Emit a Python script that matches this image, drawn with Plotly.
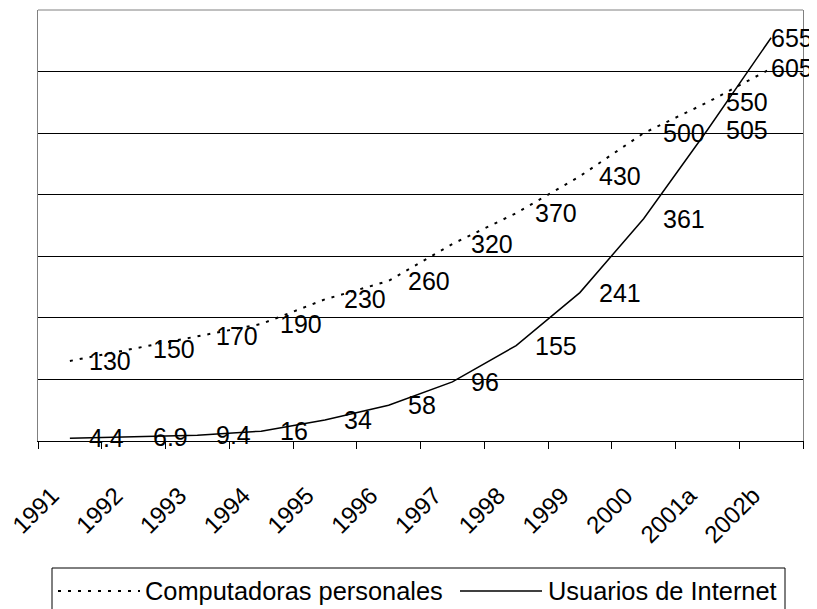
import plotly.graph_objects as go

years = ["1991", "1992", "1993", "1994", "1995", "1996", "1997", "1998",
         "1999", "2000", "2001a", "2002b"]
computadoras = [130, 150, 170, 190, 230, 260, 320, 370, 430, 500, 550, 605]
internet = [4.4, 6.9, 9.4, 16, 34, 58, 96, 155, 241, 361, 505, 655]
series_names = ["Computadoras personales", "Usuarios de Internet"]

FONT = "Liberation Sans, Arial, sans-serif"
OFF = 8                      # default page body margin
W, H = 817 - OFF, 609 - OFF  # figure size so that it fills the window
# plot area in window pixels: x 38..803, y 10..441
ML, MT = 38 - OFF, 10 - OFF
MR = W - (803 - OFF)
MB = H - (441 - OFF)
plot_w = W - ML - MR
plot_h = H - MT - MB


def px_x(px):  # window pixel -> paper
    return (px - OFF - ML) / plot_w


def px_y(py):
    return (H - MB - (py - OFF)) / plot_h


DOT = dict(color="black", width=2, dash="3px,7px")
SOLID = dict(color="black", width=1.5)

fig = go.Figure()
fig.add_trace(go.Scatter(x=years, y=computadoras, mode="lines",
                         name=series_names[0], line=DOT, showlegend=False))
fig.add_trace(go.Scatter(x=years, y=internet, mode="lines",
                         name=series_names[1], line=SOLID, showlegend=False))

# data labels: right of each point; last point clamped inside chart area
n = len(years)
last_px = ML + plot_w * (n - 0.5) / n
annotations = []
for series in (computadoras, internet):
    for i, v in enumerate(series):
        last = i == n - 1
        annotations.append(dict(
            x=i, y=v, xref="x", yref="y", text=f"{v:g}", showarrow=False,
            xanchor="right" if last else "left", yanchor="middle",
            xshift=(W - 4 + 2 - last_px) if last else 17,
            font=dict(family=FONT, size=25, color="black"),
        ))

# legend (Excel style) drawn at the bottom
leg_y = 591
leg_font = dict(family=FONT, size=25.4, color="black")
annotations.append(dict(x=px_x(143), y=px_y(leg_y), xref="paper", yref="paper",
                        text=series_names[0], showarrow=False, xanchor="left",
                        yanchor="middle", font=leg_font))
annotations.append(dict(x=px_x(546), y=px_y(leg_y), xref="paper", yref="paper",
                        text=series_names[1], showarrow=False, xanchor="left",
                        yanchor="middle", font=leg_font))

shapes = [
    dict(type="line", xref="paper", yref="paper", x0=0, x1=1, y0=1, y1=1,
         line=dict(color="#808080", width=1), layer="above"),
    dict(type="rect", xref="paper", yref="paper", x0=px_x(52), x1=px_x(785),
         y0=px_y(625), y1=px_y(568), line=dict(color="black", width=1),
         fillcolor="white"),
    dict(type="line", xref="paper", yref="paper", x0=px_x(58), x1=px_x(140),
         y0=px_y(leg_y), y1=px_y(leg_y), line=DOT),
    dict(type="line", xref="paper", yref="paper", x0=px_x(460), x1=px_x(542),
         y0=px_y(leg_y), y1=px_y(leg_y), line=SOLID),
]

fig.update_layout(
    width=W, height=H,
    margin=dict(l=ML, r=MR, t=MT, b=MB, autoexpand=False),
    paper_bgcolor="white", plot_bgcolor="white",
    font=dict(family=FONT, size=25, color="black"),
    showlegend=False,
    annotations=annotations,
    shapes=shapes,
)
fig.update_xaxes(
    type="category", tickson="boundaries", ticks="outside", ticklen=7,
    tickcolor="black", tickwidth=1, showline=True, linecolor="black", linewidth=1,
    showgrid=False, tickangle=-45, ticklabelstandoff=30, ticklabelshift=-18,
    tickfont=dict(family=FONT, size=24, color="black"), range=[-0.5, 11.5],
    automargin=False,
)
fig.update_yaxes(
    range=[0, 700], dtick=100, showticklabels=False, ticks="",
    showgrid=True, gridcolor="black", gridwidth=1,
    showline=True, linecolor="#808080", linewidth=1, mirror=True,
    zeroline=False, automargin=False,
)

fig.write_html("out.html")
